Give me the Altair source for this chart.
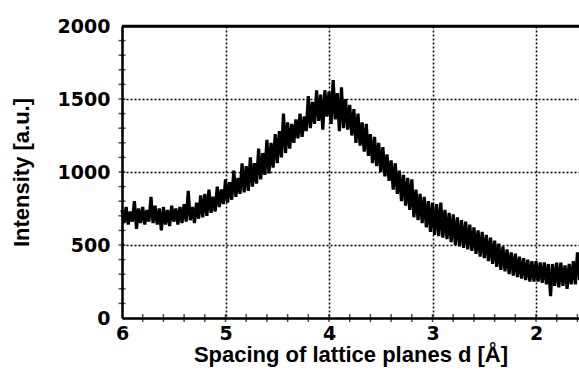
import altair as alt
import pandas as pd

# scan: d from 6.00 down to 1.58 in steps of 0.02 Å
d_start = 6.00
d_step = 0.02
intensity = [
    740, 650, 760, 640, 730, 660, 800, 610, 750, 650,
    760, 640, 740, 660, 830, 650, 770, 640, 750, 600,
    760, 640, 740, 630, 770, 660, 750, 640, 760, 650,
    780, 660, 870, 670, 760, 650, 790, 680, 840, 690,
    850, 700, 880, 720, 830, 730, 900, 760, 880, 780,
    950, 790, 930, 810, 1010, 830, 960, 850, 1060, 860,
    1040, 870, 1100, 900, 1060, 920, 1160, 950, 1130, 980,
    1220, 990, 1200, 1030, 1260, 1060, 1280, 1100, 1400, 1130,
    1340, 1160, 1330, 1200, 1360, 1230, 1400, 1240, 1380, 1280,
    1520, 1300, 1480, 1330, 1560, 1350, 1530, 1290, 1560, 1380,
    1550, 1330, 1630, 1360, 1540, 1280, 1580, 1300, 1500, 1290,
    1460, 1250, 1430, 1200, 1400, 1180, 1340, 1140, 1330, 1110,
    1260, 1060, 1240, 1040, 1200, 1000, 1170, 970, 1120, 940,
    1080, 880, 1060, 850, 1010, 800, 980, 770, 960, 740,
    950, 690, 880, 670, 850, 650, 830, 620, 800, 590,
    790, 570, 780, 560, 790, 550, 740, 540, 720, 520,
    710, 500, 690, 490, 670, 480, 660, 470, 640, 460,
    620, 440, 600, 420, 590, 410, 570, 390, 550, 370,
    530, 350, 510, 330, 490, 320, 470, 300, 450, 290,
    440, 280, 420, 270, 410, 260, 400, 250, 390, 250,
    390, 250, 380, 240, 380, 230, 370, 150, 370, 220,
    380, 210, 380, 220, 360, 200, 370, 230, 390, 230,
    450, 260,
]
d_values = [round(d_start - i * d_step, 2) for i in range(len(intensity))]

x_major = [6, 5, 4, 3, 2]
x_minor = [5.8, 5.6, 5.4, 5.2, 5.0, 4.8, 4.6, 4.4, 4.2, 4.0, 3.8, 3.6, 3.4,
           3.2, 3.0, 2.8, 2.6, 2.4, 2.2, 2.0, 1.8, 1.6]
y_major = [0, 500, 1000, 1500, 2000]
y_minor = [100, 200, 300, 400, 500, 600, 700, 800, 900, 1000, 1100, 1200,
           1300, 1400, 1500, 1600, 1700, 1800, 1900]

df = pd.DataFrame({"d": d_values, "I": intensity})
xt = pd.DataFrame({"d": x_minor})
yt = pd.DataFrame({"I": y_minor})
top = pd.DataFrame({"I": [2000]})

FONT = "Liberation Sans"
NUMFONT = "DejaVu Sans"
xscale = alt.Scale(domain=[6, 1.585], nice=False, zero=False)
yscale = alt.Scale(domain=[0, 2000], nice=False, zero=False)

main_x = alt.Axis(
    orient="bottom", values=x_major, format="d", labelFlush=False,
    ticks=False, domain=True, domainColor="black", domainWidth=2.5,
    grid=True, gridColor="black", gridDash=[2, 2], gridWidth=1.5, gridOpacity=1,
    labelFont=NUMFONT, labelFontSize=19, labelFontWeight="bold", labelColor="black",
    labelBaseline="alphabetic", labelPadding=21,
    title="Spacing of lattice planes d [Å]", titleFont=FONT, titleFontSize=22,
    titleFontWeight="bold", titleColor="black", titleBaseline="alphabetic",
    titleY=43.5,
)
# the gridline at 2000 doubles as the solid top frame
main_y = alt.Axis(
    orient="left", values=y_major, format="d",
    ticks=False, domain=True, domainColor="black", domainWidth=2.5,
    grid=True, gridColor="black", gridOpacity=1,
    gridDash={"condition": {"test": "datum.value === 2000", "value": []}, "value": [2, 2]},
    gridWidth={"condition": {"test": "datum.value === 2000", "value": 2.5}, "value": 1.5},
    labelFont=NUMFONT, labelFontSize=19, labelFontWeight="bold", labelColor="black",
    labelPadding=12,
    title="Intensity [a.u.]", titleFont=FONT, titleFontSize=22,
    titleFontWeight="bold", titleColor="black", titleBaseline="alphabetic",
    titleAngle=270, titleAlign="center", titleX=-94, titleY=146,
)

line = alt.Chart(df).mark_line(color="black", strokeWidth=3.2).encode(
    x=alt.X("d:Q", scale=xscale, axis=main_x),
    y=alt.Y("I:Q", scale=yscale, axis=main_y),
)

x_ticks_bottom = alt.Chart(xt).mark_tick(color="black", thickness=1.5, size=8, orient="vertical").encode(
    x=alt.X("d:Q", scale=xscale), y=alt.datum(0)
)
y_ticks_left = alt.Chart(yt).mark_tick(color="black", thickness=1.5, size=7, orient="horizontal").encode(
    y=alt.Y("I:Q", scale=yscale), x=alt.datum(6)
)
top_frame = alt.Chart(top).mark_rule(color="black", strokeWidth=2.5).encode(
    y=alt.Y("I:Q", scale=yscale)
)

chart = (
    alt.layer(line, x_ticks_bottom, y_ticks_left, top_frame)
    .properties(
        width=457, height=292,
        autosize=alt.AutoSizeParams(type="none"),
        padding={"left": 122, "top": 26, "right": 0, "bottom": 54},
        background="white",
    )
    .configure_view(stroke=None)
)

chart.save("out.html", embed_options={"renderer": "svg", "actions": False})
